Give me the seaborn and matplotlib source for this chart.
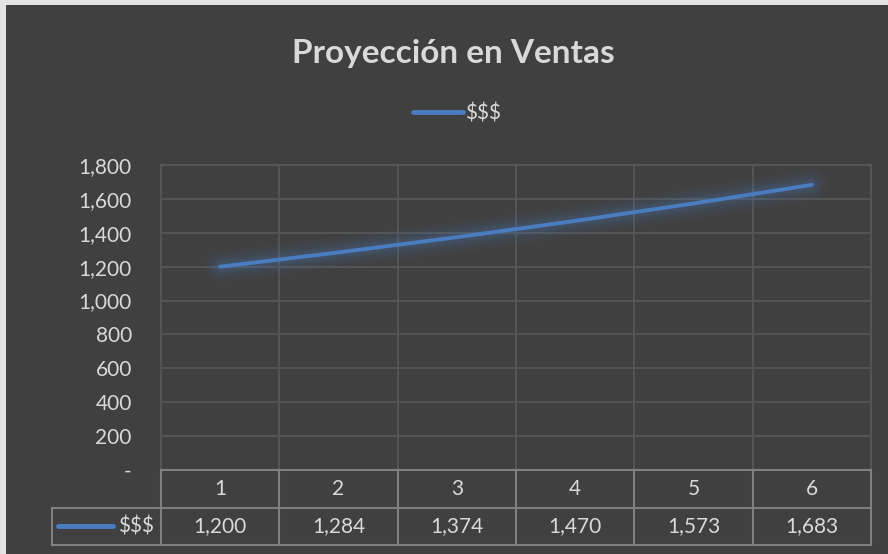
import numpy as np
import pandas as pd
import matplotlib
matplotlib.use("Agg")
import matplotlib.pyplot as plt
import seaborn as sns
from matplotlib.ticker import FuncFormatter, MultipleLocator, FixedLocator
from matplotlib.patches import Rectangle

periods = [1, 2, 3, 4, 5, 6]
sales = [1200, 1284, 1374, 1470, 1573, 1683]
series_name = "$$$"
title = "Proyección en Ventas"

df = pd.DataFrame({"periodo": periods, series_name: sales})

sns.set_theme(style="dark")
plt.rcParams["font.family"] = ["Lato", "DejaVu Sans"]

BG = "#404040"
GRID = "#575757"
TABLE = "#808080"
TXT = "#d9d9d9"
BLUE = "#4a7cc0"
FS = 15

W, H = 888, 554
fig = plt.figure(figsize=(W / 100, H / 100), dpi=100, facecolor="#e3e3e3")
fig.patches.append(Rectangle((6 / W, 0), 1, 1 - 5 / H, transform=fig.transFigure,
                             facecolor=BG, edgecolor="none", zorder=-10))

# plot area in pixels: x 161-871, y 165-470
ax = fig.add_axes([161 / W, (H - 470) / H, 710 / W, 305 / H])
ax.set_facecolor(BG)

# soft glow around the line
for lw, a in [(22, 0.04), (18, 0.05), (14, 0.06), (10, 0.08), (7, 0.1)]:
    ax.plot(df["periodo"], df[series_name], color=BLUE, lw=lw, alpha=a,
            solid_capstyle="round", zorder=2)
sns.lineplot(data=df, x="periodo", y=series_name, ax=ax, color=BLUE, lw=2.8,
             label=series_name, zorder=3)
ax.lines[-1].set_solid_capstyle("round")

ax.set_xlim(0.5, 6.5)
ax.set_ylim(0, 1800)
ax.yaxis.set_major_locator(MultipleLocator(200))
ax.yaxis.set_major_formatter(FuncFormatter(lambda v, p: "-" if v == 0 else f"{v:,.0f}"))
ax.xaxis.set_major_locator(FixedLocator([1.5, 2.5, 3.5, 4.5, 5.5]))
ax.set_xticklabels([])
ax.grid(True, color=GRID, lw=1.3)
ax.tick_params(axis="y", colors=TXT, labelsize=FS, pad=21, length=0)
ax.tick_params(axis="x", length=0)
ax.set_xlabel("")
ax.set_ylabel("")
for side in ["top", "right", "left"]:
    ax.spines[side].set_color(GRID)
    ax.spines[side].set_linewidth(1.3)
ax.spines["bottom"].set_visible(False)

leg = ax.legend(loc="center", bbox_to_anchor=(457 / W, 1 - 113 / H),
                bbox_transform=fig.transFigure, frameon=False, fontsize=FS,
                handlelength=2.4, handletextpad=0.1, labelcolor=TXT)
for h in leg.get_lines():
    h.set_linewidth(3.5)
    h.set_alpha(1)

fig.text(453 / W, 1 - 53 / H, title, ha="center", va="center", fontsize=24,
         fontweight="bold", color=TXT)

# data table below the plot: rows y 470-507 (header) and 507-545 (values)
tab = fig.add_axes([161 / W, (H - 545) / H, 710 / W, 75 / H])
tab.set_xlim(0.5, 6.5)
tab.set_ylim(0, 2)
tab.axis("off")
cw = 710 / 6
left_edge = 0.5 - 109 / cw
kw = dict(color=TABLE, lw=1.5, clip_on=False, solid_capstyle="projecting")
tab.plot([0.5, 6.5], [2, 2], **kw)
tab.plot([left_edge, 6.5], [1, 1], **kw)
tab.plot([left_edge, 6.5], [0, 0], **kw)
tab.plot([left_edge, left_edge], [0, 1], **kw)
for b in np.arange(0.5, 7, 1):
    tab.plot([b, b], [0, 2], **kw)
for p, v in zip(periods, sales):
    tab.text(p, 1.5, str(p), ha="center", va="center", fontsize=FS, color=TXT)
    tab.text(p, 0.5, f"{v:,}", ha="center", va="center", fontsize=FS, color=TXT)
tab.plot([0.5 - 103 / cw, 0.5 - 48 / cw], [0.5, 0.5], color=BLUE, lw=3.5,
         solid_capstyle="round", clip_on=False)
tab.text(0.5 - 7 / cw, 0.5, series_name, ha="right", va="center", fontsize=FS,
         color=TXT)

fig.savefig("out.png", dpi=100, facecolor=fig.get_facecolor())
